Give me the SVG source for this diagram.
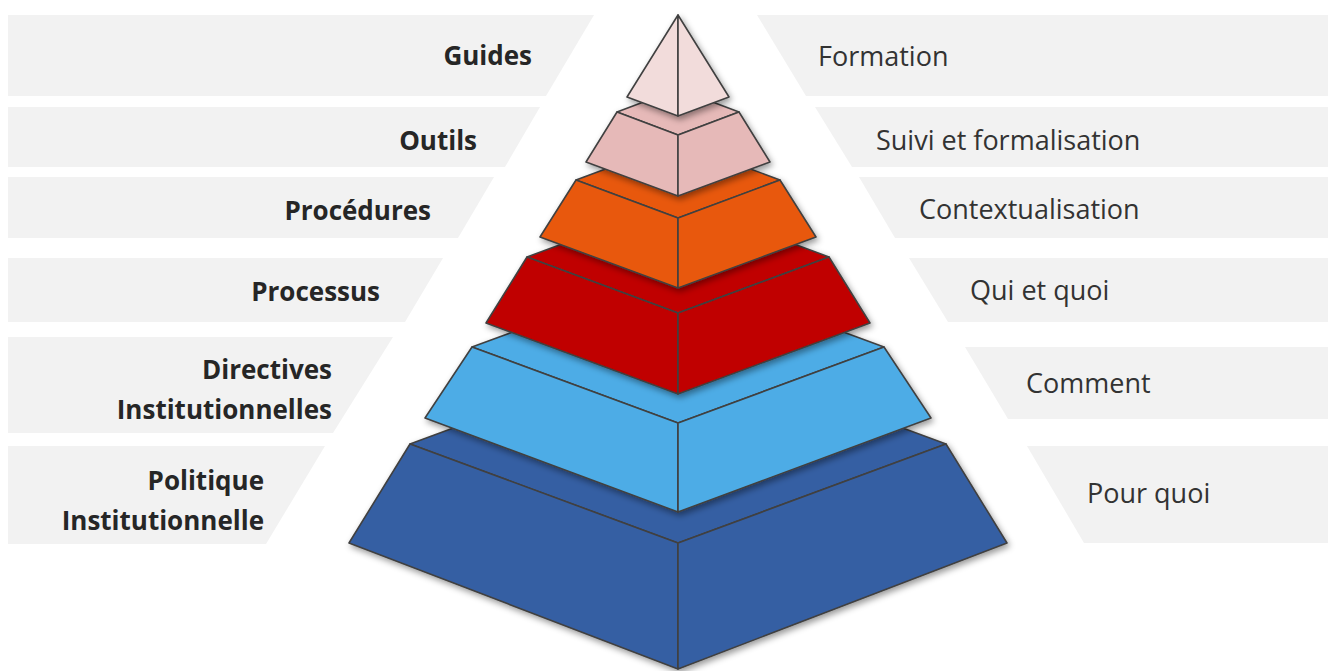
<svg xmlns="http://www.w3.org/2000/svg" width="1328" height="671" viewBox="0 0 1328 671">
<defs>
<style>
.ban{fill:#f2f2f2}
.lb{font-family:"Open Sans","Noto Sans",sans-serif;font-weight:bold;font-size:26px;fill:#262626;text-anchor:end}
.rt{font-family:"Open Sans","Noto Sans",sans-serif;font-size:27px;fill:#333333}
.f{stroke:#404040;stroke-width:1.6;stroke-linejoin:round}
.c1{fill:#f2dcdb}.c2{fill:#e6b9b8}.c3{fill:#e8590c}.c4{fill:#c00000}.c5{fill:#4dace6}.c6{fill:#365fa3}
</style>
<filter id="sh" x="-10%" y="-10%" width="120%" height="130%">
<feDropShadow dx="2" dy="3" stdDeviation="3" flood-color="#000" flood-opacity="0.4"/>
</filter>
</defs>
<rect width="1328" height="671" fill="#ffffff"/>
<g id="left-banners">
<g id="l-guides"><polygon class="ban" points="8,15 594,15 546,96 8,96"/><text class="lb" x="532" y="65">Guides</text></g>
<g id="l-outils"><polygon class="ban" points="8,107 540,107 505,167 8,167"/><text class="lb" x="477" y="150">Outils</text></g>
<g id="l-procedures"><polygon class="ban" points="8,177 494,177 458,238 8,238"/><text class="lb" x="431" y="220">Procédures</text></g>
<g id="l-processus"><polygon class="ban" points="8,258 443,258 405,322 8,322"/><text class="lb" x="380" y="301">Processus</text></g>
<g id="l-directives"><polygon class="ban" points="8,337 393,337 333,433 8,433"/><text class="lb" x="332" y="379">Directives</text><text class="lb" x="332" y="419">Institutionnelles</text></g>
<g id="l-politique"><polygon class="ban" points="8,446 325,446 266,544 8,544"/><text class="lb" x="264" y="490">Politique</text><text class="lb" x="264" y="530">Institutionnelle</text></g>
</g>
<g id="right-banners">
<g id="r-formation"><polygon class="ban" points="757,15 1328,15 1328,96 806,96"/><text class="rt" x="818" y="66">Formation</text></g>
<g id="r-suivi"><polygon class="ban" points="815,107 1328,107 1328,167 852,167"/><text class="rt" x="876" y="150">Suivi et formalisation</text></g>
<g id="r-context"><polygon class="ban" points="859,177 1328,177 1328,238 895,238"/><text class="rt" x="919" y="219">Contextualisation</text></g>
<g id="r-qui"><polygon class="ban" points="909,258 1328,258 1328,322 948,322"/><text class="rt" x="970" y="300">Qui et quoi</text></g>
<g id="r-comment"><polygon class="ban" points="965,347 1328,347 1328,419 1008,419"/><text class="rt" x="1026" y="393">Comment</text></g>
<g id="r-pourquoi"><polygon class="ban" points="1027,446 1328,446 1328,543 1084,543"/><text class="rt" x="1087" y="503">Pour quoi</text></g>
</g>
<g id="pyramid">
<g id="layer6" filter="url(#sh)">
<polygon class="f c6" points="410,444 678,345 946,444 678,543"/>
<polygon class="f c6" points="410,444 678,543 678,669 349,543"/>
<polygon class="f c6" points="678,543 946,444 1007,543 678,669"/>
</g>
<g id="layer5" filter="url(#sh)">
<polygon class="f c5" points="472,347 678,271 884,347 678,423"/>
<polygon class="f c5" points="472,347 678,423 678,512 425,418"/>
<polygon class="f c5" points="678,423 884,347 931,418 678,512"/>
</g>
<g id="layer4" filter="url(#sh)">
<polygon class="f c4" points="527,257 678,201 829,257 678,313"/>
<polygon class="f c4" points="527,257 678,313 678,394 486,323"/>
<polygon class="f c4" points="678,313 829,257 870,323 678,394"/>
</g>
<g id="layer3" filter="url(#sh)">
<polygon class="f c3" points="576,180 678,142 780,180 678,218"/>
<polygon class="f c3" points="576,180 678,218 678,288 540,237"/>
<polygon class="f c3" points="678,218 780,180 816,237 678,288"/>
</g>
<g id="layer2" filter="url(#sh)">
<polygon class="f c2" points="617,112 678,89 739,112 678,135"/>
<polygon class="f c2" points="617,112 678,135 678,196 586,162"/>
<polygon class="f c2" points="678,135 739,112 770,162 678,196"/>
</g>
<g id="layer1" filter="url(#sh)">
<polygon class="f c1" points="678,15 678,116 627,97"/>
<polygon class="f c1" points="678,15 729,97 678,116"/>
</g>
</g>
<g id="connectors"/>
</svg>
